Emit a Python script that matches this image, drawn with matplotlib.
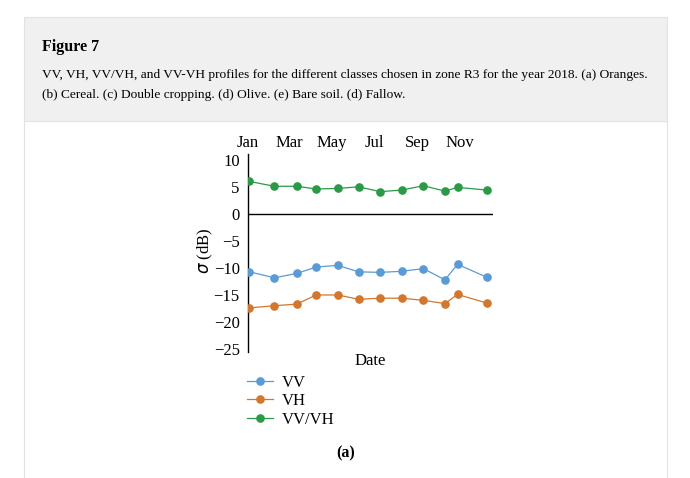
import matplotlib
matplotlib.use("Agg")
import matplotlib.pyplot as plt
import matplotlib.dates as mdates
from matplotlib.patches import Rectangle
from matplotlib.lines import Line2D
import datetime as dt

plt.rcParams['font.family'] = ['Liberation Serif', 'DejaVu Serif']

# ---- data ----
dates = ["2018-01-03", "2018-02-08", "2018-03-12", "2018-04-09", "2018-05-10",
         "2018-06-09", "2018-07-10", "2018-08-10", "2018-09-10", "2018-10-11",
         "2018-10-29", "2018-12-10"]
vv = [-10.7, -11.8, -11.0, -9.8, -9.5, -10.7, -10.8, -10.6, -10.1, -12.2, -9.3, -11.7]
vh = [-17.4, -17.0, -16.7, -15.0, -15.0, -15.8, -15.6, -15.6, -16.0, -16.6, -14.9, -16.5]
vv_vh = [6.1, 5.2, 5.2, 4.7, 4.8, 5.1, 4.2, 4.5, 5.3, 4.3, 5.0, 4.5]
series_names = ["VV", "VH", "VV/VH"]
colors = ["#5b9bd5", "#d2772d", "#2b9a47"]
yticks = [10, 5, 0, -5, -10, -15, -20, -25]

title = "Figure 7"
caption = ("VV, VH, VV/VH, and VV-VH profiles for the different classes chosen in zone R3 for the year 2018. (a) Oranges.\n"
           "(b) Cereal. (c) Double cropping. (d) Olive. (e) Bare soil. (d) Fallow.")

W, H = 690, 478
fig = plt.figure(figsize=(W / 100, H / 100), dpi=100)

def fx(px):
    return px / W

def fy(py):
    return 1 - py / H

# page decorations
fig.patches.append(Rectangle((fx(24), fy(121)), fx(667) - fx(24), fy(17) - fy(121),
                             transform=fig.transFigure, facecolor="#f0f0f0",
                             edgecolor="#e2e2e2", lw=0.8, zorder=0))
fig.lines.append(Line2D([fx(24), fx(24)], [fy(121), 0], transform=fig.transFigure,
                        color="#e2e2e2", lw=0.8))
fig.lines.append(Line2D([fx(667), fx(667)], [fy(121), 0], transform=fig.transFigure,
                        color="#e2e2e2", lw=0.8))

fig.text(fx(42), fy(47), title, fontsize=11.5, fontweight="bold", va="center", ha="left")
fig.text(fx(42), fy(85), caption, fontsize=9.6, va="center", ha="left", linespacing=1.85)

# axes
x = [mdates.date2num(dt.datetime.strptime(d, "%Y-%m-%d")) for d in dates]
ax = fig.add_axes([fx(248), fy(352), fx(493) - fx(248), fy(154) - fy(352)])
for name, vals, c in zip(series_names, [vv, vh, vv_vh], colors):
    ax.plot(x, vals, color=c, lw=0.9, marker="o", markersize=5.2, label=name, zorder=3)

ax.axhline(0, color="black", lw=1.0, zorder=2)
ax.set_xlim(mdates.date2num(dt.datetime(2018, 1, 1)), mdates.date2num(dt.datetime(2018, 12, 19)))
ax.set_ylim(-25.6, 11.2)
ax.set_yticks(yticks)
ax.set_yticklabels(["\u2212" + str(-t) if t < 0 else str(t) for t in yticks])
ax.xaxis.set_major_locator(mdates.MonthLocator(bymonth=[1, 3, 5, 7, 9, 11]))
ax.xaxis.set_major_formatter(mdates.DateFormatter("%b"))
ax.xaxis.tick_top()
ax.tick_params(axis="both", length=0, labelsize=12)
ax.tick_params(axis="x", pad=2)
ax.tick_params(axis="y", pad=6)
for s in ["top", "right", "bottom"]:
    ax.spines[s].set_visible(False)
ax.spines["left"].set_linewidth(1.0)
ax.set_facecolor("none")
ax.set_ylabel(r"$\sigma$ (dB)", fontsize=12, va="center")
ax.yaxis.set_label_coords((205 - 248) / 245, (352 - 251) / 198)

fig.text(fx(370), fy(361), "Date", fontsize=12, ha="center", va="center")

handles, labels = ax.get_legend_handles_labels()
fig.legend(handles, labels, loc="upper left", bbox_to_anchor=(fx(240), fy(368)),
           frameon=False, fontsize=12, handlelength=1.6, labelspacing=0.15,
           handletextpad=0.5, borderaxespad=0)

fig.text(fx(346), fy(453), "(a)", fontsize=11.5, fontweight="bold", ha="center", va="center")

fig.savefig("out.png", dpi=100)
